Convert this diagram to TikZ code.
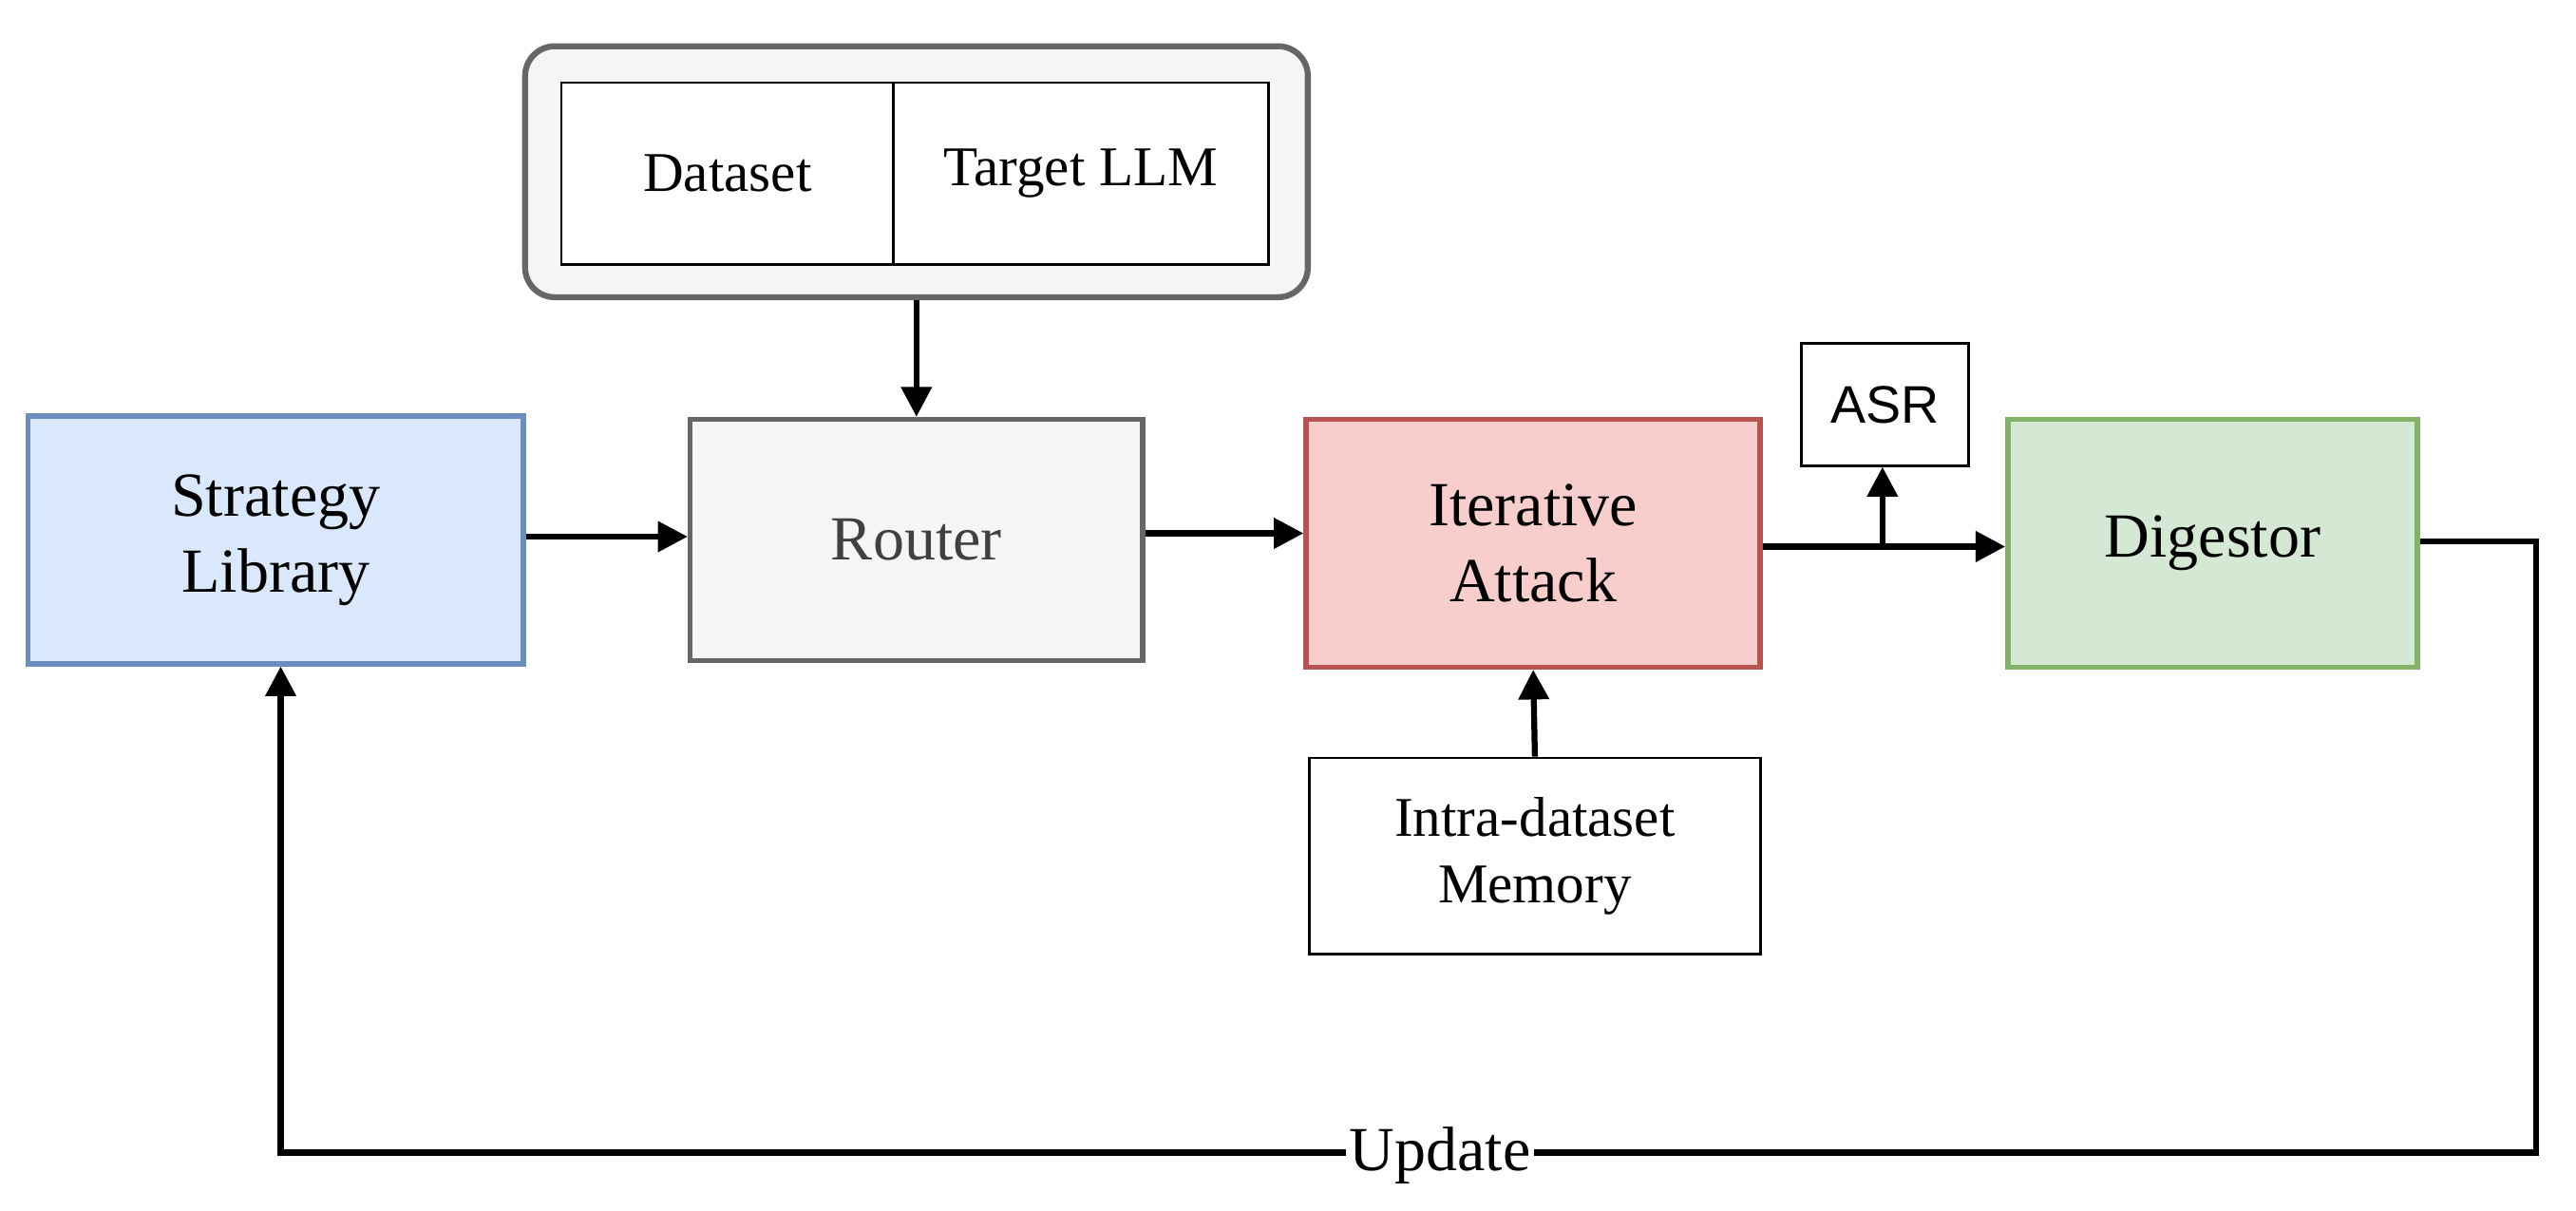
\documentclass[tikz,border=0pt]{standalone}
\usepackage{fontspec}
\setmainfont{Liberation Serif}
\newfontfamily\asrfont{Liberation Sans}
\usetikzlibrary{arrows.meta}
\begin{document}
\begin{tikzpicture}[x=0.5pt,y=-0.5pt,
  box/.style={draw, line width=1.6pt, font=\fontsize{19}{23}\selectfont, align=center, inner sep=0pt},
  thin/.style={draw, line width=0.8pt, font=\fontsize{17}{20}\selectfont, align=center, inner sep=0pt},
  arr/.style={line width=1.8pt, -{Triangle[length=9pt,width=9pt]}},
  ln/.style={line width=1.8pt}]
\useasboundingbox (0,0) rectangle (1560,733);
\definecolor{bluef}{HTML}{DAE8FC}\definecolor{blued}{HTML}{6C8EBF}
\definecolor{grayf}{HTML}{F5F5F5}\definecolor{grayd}{HTML}{666666}
\definecolor{redf}{HTML}{F8CECC}\definecolor{redd}{HTML}{B85450}
\definecolor{greenf}{HTML}{D5E8D4}\definecolor{greend}{HTML}{82B366}
\node[draw=grayd, fill=grayf, line width=1.8pt, rounded corners=9pt, minimum width=237pt, minimum height=76pt] (outer) at (555,104) {};
\node[thin, fill=white, minimum width=100.5pt, minimum height=55pt] (ds) at (440.5,105) {Dataset};
\node[thin, fill=white, minimum width=113.5pt, minimum height=55pt] (tl) at (654.5,105) {Target LLM};
\node[box, draw=blued, fill=bluef, minimum width=150pt, minimum height=75pt] (sl) at (167,327) {Strategy\\Library};
\node[box, draw=grayd, fill=grayf, text=black!75, minimum width=137pt, minimum height=73pt] (rt) at (555,327) {Router};
\node[box, draw=redd, fill=redf, minimum width=137.5pt, minimum height=75pt] (ia) at (928.5,329) {Iterative\\Attack};
\node[box, draw=greend, fill=greenf, minimum width=124pt, minimum height=75pt] (dg) at (1340,329) {Digestor};
\node[thin, fill=white, font=\asrfont\fontsize{16}{19}\selectfont, minimum width=50.5pt, minimum height=37pt] (asr) at (1141.5,245) {ASR};
\node[thin, fill=white, minimum width=136.5pt, minimum height=59.5pt] (mem) at (929.5,518.5) {Intra-dataset\\Memory};
\draw[arr] (outer.south) -- (rt.north);
\draw[arr] (sl.east |- 0,325) -- (rt.west |- 0,325);
\draw[arr] (rt.east |- 0,323) -- (ia.west |- 0,323);
\draw[arr] (ia.east |- 0,331) -- (dg.west |- 0,331);
\coordinate (br) at (1140,331);
\draw[arr] (br) -- (asr.south -| br);
\draw[arr] (mem.north) -- (ia.south);
\coordinate (c1) at (1536,328);
\coordinate (c2) at (1536,698);
\coordinate (c3) at (170,698);
\draw[arr] (dg.east |- c1) -- (c1) -- (c2) -- (c3) -- (sl.south -| c3);
\node[fill=white, inner sep=1pt, font=\fontsize{19}{23}\selectfont] (up) at (872,700) {Update};
\end{tikzpicture}
\end{document}
